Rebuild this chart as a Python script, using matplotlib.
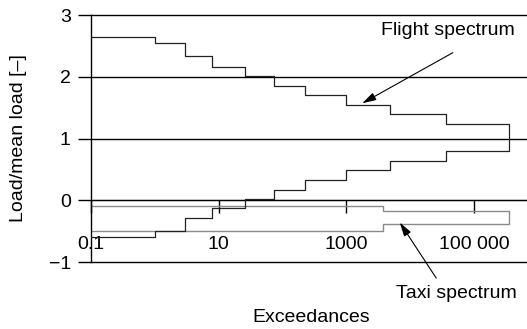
import numpy as np
import matplotlib
matplotlib.use("Agg")
import matplotlib.pyplot as plt

plt.rcParams['font.family'] = ['Liberation Sans', 'DejaVu Sans']
FS = 14

# Stufengrenzen (Überschreitungen) und Lastniveaus
flight_edges = [0.1, 1, 3, 7.8, 26, 75, 229, 1000, 4900, 36000, 3.6e5]
flight_upper = [2.64, 2.54, 2.33, 2.16, 2.02, 1.85, 1.70, 1.54, 1.39, 1.23]
flight_lower = [-0.60, -0.50, -0.28, -0.13, 0.02, 0.16, 0.33, 0.49, 0.64, 0.79]

taxi_edges = [0.1, 3800, 3.6e5]
taxi_upper = [-0.10, -0.18]
taxi_lower = [-0.50, -0.38]

y_ticks = [-1, 0, 1, 2, 3]
x_ticks = [0.1, 10, 1000, 100000]
x_ticklabels = ["0.1", "10", "1000", "100 000"]


def staircase(edges, upper, lower):
    # obere Treppe hin, rechts senkrecht runter, untere Treppe zurück
    e = np.asarray(edges, dtype=float)
    xs_up = np.repeat(e, 2)[1:-1]
    ys_up = np.repeat(upper, 2)
    xs_lo = xs_up[::-1]
    ys_lo = np.repeat(lower, 2)[::-1]
    return np.concatenate([xs_up, xs_lo]), np.concatenate([ys_up, ys_lo])


fig = plt.figure(figsize=(5.27, 3.29), dpi=100)
ax = fig.add_axes([0.1727, 0.2036, 0.8273, 0.7508])

ax.set_xscale('log')
ax.set_xlim(0.1, 6.8e5)
ax.set_ylim(-1, 3)

for y in y_ticks:
    ax.axhline(y, color='black', lw=1.0, clip_on=False, zorder=1)

xs, ys = staircase(taxi_edges, taxi_upper, taxi_lower)
ax.plot(xs, ys, color='#8a8a8a', lw=1.0, zorder=2)
xs, ys = staircase(flight_edges, flight_upper, flight_lower)
ax.plot(xs, ys, color='#222222', lw=0.9, zorder=3)

for s in ['top', 'right']:
    ax.spines[s].set_visible(False)
ax.spines['bottom'].set_position(('data', 0))
ax.spines['left'].set_linewidth(1.0)

ax.set_yticks(y_ticks)
ax.set_yticklabels(["\u22121", "0", "1", "2", "3"])
ax.tick_params(axis='y', direction='out', length=9.5, width=1.0, pad=5, labelsize=FS)
ax.set_xticks(x_ticks)
ax.set_xticklabels(x_ticklabels)
ax.xaxis.set_minor_locator(matplotlib.ticker.NullLocator())
ax.tick_params(axis='x', direction='out', length=9, width=1.0, pad=16.5, labelsize=FS)

ax.set_xlabel("Exceedances", fontsize=FS, va='center')
ax.xaxis.set_label_coords(0.505, -0.223)
ax.set_ylabel("Load/mean load [\u2013]", fontsize=FS, va='center')
ax.yaxis.set_label_coords(-0.167, 0.5)

arrow = dict(arrowstyle='-|>,head_length=0.7,head_width=0.2', color='black',
             lw=0.8, shrinkA=0, shrinkB=0, mutation_scale=12)
ax.annotate("", xy=(1780, 1.57), xytext=(46800, 2.39), arrowprops=arrow)
ax.text(39000, 2.75, "Flight spectrum", fontsize=FS, ha='center', va='center')
ax.annotate("", xy=(6900, -0.36), xytext=(25700, -1.26), arrowprops=arrow,
            annotation_clip=False)
ax.text(54000, -1.51, "Taxi spectrum", fontsize=FS, ha='center', va='center',
        clip_on=False)

fig.savefig("out.png", dpi=100)
